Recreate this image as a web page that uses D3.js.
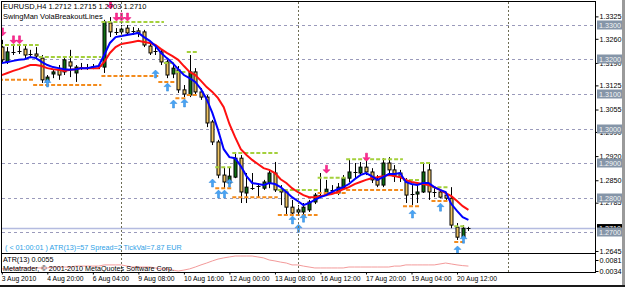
<!DOCTYPE html>
<html>
<head>
<meta charset="utf-8">
<script src="https://cdn.jsdelivr.net/npm/d3@7"></script>
<style>
  html, body { margin: 0; padding: 0; background: #fff; }
  svg { display: block; font-family: "Liberation Sans", Arial, sans-serif; }
</style>
</head>
<body>
<div id="chart"></div>
<script>
// EURUSD H4, 3 Aug 2010 12:00 .. 20 Aug 2010 20:00 (bar index 0..82)
const barOpen = [1.3236,1.3193,1.3222,1.3222,1.3230,1.3213,1.3216,1.3204,1.3135,1.3158,
  1.3170,1.3164,1.3193,1.3161,1.3178,1.3175,1.3178,1.3181,1.3178,1.3306,
  1.3280,1.3280,1.3291,1.3280,1.3283,1.3280,1.3239,1.3222,1.3222,1.3193,
  1.3158,1.3170,1.3112,1.3097,1.3164,1.3106,1.3091,1.3019,1.2961,1.2865,
  1.2842,1.2859,1.2914,1.2813,1.2828,1.2830,1.2827,1.2842,1.2871,1.2822,
  1.2816,1.2772,1.2758,1.2758,1.2764,1.2787,1.2804,1.2810,1.2822,1.2813,
  1.2827,1.2856,1.2874,1.2871,1.2888,1.2874,1.2851,1.2836,1.2900,1.2880,
  1.2871,1.2845,1.2807,1.2810,1.2816,1.2880,1.2816,1.2816,1.2807,1.2798,
  1.2714,1.2685,1.2712];
const barHigh = [1.3257,1.3236,1.3239,1.3239,1.3239,1.3228,1.3236,1.3213,1.3155,1.3170,
  1.3184,1.3204,1.3228,1.3184,1.3190,1.3187,1.3187,1.3190,1.3315,1.3323,
  1.3291,1.3300,1.3300,1.3294,1.3291,1.3286,1.3248,1.3236,1.3228,1.3199,
  1.3190,1.3181,1.3126,1.3213,1.3175,1.3117,1.3097,1.3025,1.2967,1.2888,
  1.2888,1.2929,1.2923,1.2871,1.2871,1.2842,1.2851,1.2880,1.2903,1.2836,
  1.2822,1.2793,1.2778,1.2784,1.2793,1.2813,1.2871,1.2851,1.2836,1.2842,
  1.2865,1.2909,1.2900,1.2903,1.2909,1.2885,1.2865,1.2914,1.2917,1.2894,
  1.2880,1.2856,1.2836,1.2836,1.2900,1.2900,1.2830,1.2822,1.2816,1.2830,
  1.2726,1.2720,1.2715];
const barLow = [1.3190,1.3187,1.3213,1.3216,1.3204,1.3204,1.3204,1.3132,1.3129,1.3146,
  1.3141,1.3155,1.3149,1.3135,1.3170,1.3170,1.3172,1.3172,1.3161,1.3265,
  1.3271,1.3271,1.3271,1.3271,1.3265,1.3236,1.3213,1.3213,1.3184,1.3146,
  1.3146,1.3103,1.3091,1.3091,1.3097,1.3083,1.3004,1.2952,1.2856,1.2827,
  1.2830,1.2856,1.2784,1.2784,1.2822,1.2801,1.2822,1.2827,1.2816,1.2778,
  1.2749,1.2749,1.2749,1.2752,1.2758,1.2781,1.2801,1.2804,1.2813,1.2807,
  1.2822,1.2845,1.2856,1.2862,1.2865,1.2842,1.2830,1.2830,1.2865,1.2845,
  1.2845,1.2784,1.2778,1.2784,1.2813,1.2793,1.2801,1.2798,1.2793,1.2711,
  1.2677,1.2671,1.2703];
const barClose = [1.3199,1.3222,1.3219,1.3225,1.3213,1.3216,1.3210,1.3141,1.3149,1.3164,
  1.3155,1.3199,1.3181,1.3178,1.3175,1.3178,1.3181,1.3178,1.3309,1.3280,
  1.3277,1.3288,1.3277,1.3283,1.3277,1.3242,1.3219,1.3225,1.3193,1.3155,
  1.3175,1.3112,1.3100,1.3164,1.3106,1.3091,1.3016,1.2961,1.2865,1.2845,
  1.2862,1.2914,1.2816,1.2830,1.2827,1.2833,1.2845,1.2871,1.2822,1.2816,
  1.2772,1.2755,1.2764,1.2772,1.2787,1.2807,1.2807,1.2824,1.2821,1.2830,
  1.2856,1.2874,1.2873,1.2888,1.2874,1.2851,1.2836,1.2900,1.2880,1.2862,
  1.2859,1.2807,1.2810,1.2816,1.2874,1.2816,1.2813,1.2801,1.2798,1.2720,
  1.2685,1.2711,1.2710];

// fast (blue) and slow (red) moving averages
const fastMA = [1.3190,1.3193,1.3196,1.3199,1.3201,1.3207,1.3204,1.3193,1.3184,1.3178,
  1.3175,1.3172,1.3170,1.3172,1.3175,1.3175,1.3178,1.3181,1.3213,1.3248,
  1.3265,1.3268,1.3271,1.3274,1.3277,1.3265,1.3254,1.3239,1.3219,1.3204,
  1.3190,1.3172,1.3155,1.3146,1.3135,1.3114,1.3085,1.3045,1.2996,1.2940,
  1.2917,1.2914,1.2891,1.2862,1.2842,1.2839,1.2836,1.2842,1.2839,1.2830,
  1.2816,1.2801,1.2790,1.2778,1.2784,1.2793,1.2801,1.2807,1.2816,1.2824,
  1.2830,1.2839,1.2853,1.2865,1.2871,1.2862,1.2851,1.2859,1.2868,1.2868,
  1.2871,1.2845,1.2839,1.2836,1.2842,1.2842,1.2830,1.2822,1.2816,1.2781,
  1.2761,1.2743,1.2735];
const slowMA = [1.3155,1.3161,1.3167,1.3172,1.3178,1.3184,1.3184,1.3181,1.3175,1.3172,
  1.3170,1.3167,1.3170,1.3172,1.3175,1.3175,1.3175,1.3175,1.3193,1.3219,
  1.3236,1.3245,1.3248,1.3251,1.3254,1.3251,1.3248,1.3242,1.3230,1.3219,
  1.3210,1.3199,1.3181,1.3164,1.3155,1.3138,1.3120,1.3106,1.3088,1.3062,
  1.3013,1.2975,1.2940,1.2923,1.2909,1.2897,1.2885,1.2880,1.2871,1.2853,
  1.2842,1.2827,1.2816,1.2807,1.2801,1.2801,1.2804,1.2807,1.2810,1.2816,
  1.2824,1.2830,1.2839,1.2845,1.2851,1.2856,1.2859,1.2862,1.2865,1.2862,
  1.2859,1.2851,1.2845,1.2842,1.2839,1.2836,1.2830,1.2822,1.2813,1.2804,
  1.2790,1.2775,1.2764];

const atrValues = [0.0043,0.0043,0.0043,0.0047,0.0047,0.0047,0.0047,0.0047,0.0047,0.0051,
  0.0051,0.0051,0.0051,0.0055,0.0055,0.0055,0.0055,0.0055,0.0060,0.0060,
  0.0060,0.0060,0.0055,0.0051,0.0051,0.0051,0.0051,0.0047,0.0043,0.0043,
  0.0038,0.0034,0.0038,0.0043,0.0051,0.0060,0.0068,0.0077,0.0085,0.0090,
  0.0094,0.0098,0.0098,0.0098,0.0098,0.0094,0.0090,0.0081,0.0077,0.0072,
  0.0068,0.0060,0.0060,0.0055,0.0051,0.0047,0.0047,0.0047,0.0047,0.0047,
  0.0047,0.0051,0.0051,0.0051,0.0051,0.0051,0.0051,0.0051,0.0051,0.0055,
  0.0055,0.0060,0.0060,0.0060,0.0060,0.0060,0.0060,0.0064,0.0068,0.0064,
  0.0060,0.0057,0.0055];

// VolaBreakoutLines: [first bar, last bar, price]
const resistanceLines = [[0,6,1.3242],[7,17,1.3207],[18,28,1.3309],[29,30,1.3190],[31,32,1.3164],
  [33,34,1.3222],[38,40,1.2888],[41,48,1.2929],[49,55,1.2822],[56,60,1.2857],[61,70,1.2911],
  [71,73,1.2851],[74,75,1.2900],[76,78,1.2830],[80,81,1.2717]];
const supportLines = [[0,5,1.3141],[6,17,1.3126],[18,27,1.3152],[28,30,1.3135],[31,32,1.3088],
  [33,34,1.3097],[38,40,1.2827],[41,48,1.2801],[49,55,1.2749],[56,60,1.2813],[61,70,1.2822],
  [71,73,1.2775],[76,78,1.2790],[80,81,1.2671]];

// signal arrows: [bar, price]
const upArrows = [[8,1.3132],[27,1.3158],[29,1.3120],[30,1.3071],[32,1.3074],[37,1.2842],
  [38,1.2810],[39,1.2810],[40,1.2842],[51,1.2735],[52,1.2711],[53,1.2740],[72,1.2752],
  [77,1.2772],[80,1.2648],[81,1.2679]];
const downArrows = [[0,1.3280],[2,1.3257],[3,1.3257],[19,1.3358],[20,1.3323],[21,1.3323],
  [22,1.3323],[57,1.2882],[64,1.2917]];

const timeLabelBars = [0, 8, 16, 24, 32, 40, 48, 56, 64, 72, 80];
const timeLabels = ["3 Aug 2010", "4 Aug 20:00", "6 Aug 04:00", "9 Aug 08:00", "10 Aug 16:00",
  "12 Aug 00:00", "13 Aug 08:00", "16 Aug 12:00", "17 Aug 20:00", "19 Aug 04:00", "20 Aug 12:00"];
const gridBars = [21, 52, 89];
const priceTicks = [1.3325, 1.3260, 1.3190, 1.3125, 1.3055, 1.2990, 1.2920, 1.2850, 1.2785, 1.2645];
const roundLevels = [1.3300, 1.3200, 1.3100, 1.3000, 1.2900, 1.2800, 1.2700];
const atrTicks = [0.0081, 0.0034];
const lastPrice = 1.2710;

(function () {
  const width = 625;
  const height = 287;
  const left = 2, right = 595;
  const mainTop = 2, mainBottom = 253;
  const atrTop = 254, atrBottom = 272;
  const fontFamily = "Liberation Sans, Arial, sans-serif";

  const bullColor = "#0f6e12";
  const bearColor = "#efc463";

  const x = d3.scaleLinear().domain([0, 104]).range([1.8, 593.6]);
  const y = d3.scaleLinear().domain([1.2700, 1.3300]).range([232, 25]);
  const yAtr = d3.scaleLinear().domain([0.0034, 0.0081]).range([271, 260]);

  const bars = d3.range(barOpen.length);

  const svg = d3.create("svg")
    .attr("width", width)
    .attr("height", height)
    .attr("viewBox", [0, 0, width, height]);

  svg.append("rect").attr("width", width).attr("height", height).attr("fill", "#fff");

  const defs = svg.append("defs");
  defs.append("clipPath").attr("id", "clip-main")
    .append("rect").attr("x", left).attr("y", mainTop).attr("width", right - left).attr("height", mainBottom - mainTop);
  defs.append("clipPath").attr("id", "clip-atr")
    .append("rect").attr("x", left).attr("y", atrTop).attr("width", right - left).attr("height", atrBottom - atrTop);

  const main = svg.append("g").attr("clip-path", "url(#clip-main)");

  // grid
  main.selectAll("line.hgrid")
    .data(roundLevels)
    .join("line")
      .attr("x1", left).attr("x2", right)
      .attr("y1", d => Math.round(y(d)) + 0.5).attr("y2", d => Math.round(y(d)) + 0.5)
      .attr("stroke", "#9a9abb")
      .attr("stroke-dasharray", "3,3");

  svg.selectAll("line.vgrid")
    .data(gridBars)
    .join("line")
      .attr("x1", d => Math.round(x(d)) + 0.5).attr("x2", d => Math.round(x(d)) + 0.5)
      .attr("y1", mainTop).attr("y2", atrBottom)
      .attr("stroke", "#6d6d55")
      .attr("stroke-dasharray", "2,2");

  // bid line
  main.append("line")
    .attr("x1", left).attr("x2", right)
    .attr("y1", y(lastPrice)).attr("y2", y(lastPrice))
    .attr("stroke", "#b4bbe0")
    .attr("stroke-width", 1.5);

  // candles
  const candles = main.selectAll("g.candle")
    .data(bars)
    .join("g");

  candles.append("line")
    .attr("x1", i => Math.round(x(i)) + 0.5).attr("x2", i => Math.round(x(i)) + 0.5)
    .attr("y1", i => y(barHigh[i])).attr("y2", i => y(barLow[i]))
    .attr("stroke", "#000");

  candles.each(function (i) {
    const g = d3.select(this);
    const cx = Math.round(x(i)) + 0.5;
    const top = y(Math.max(barOpen[i], barClose[i]));
    const bottom = y(Math.min(barOpen[i], barClose[i]));
    if (bottom - top < 1.5) {
      g.append("line")
        .attr("x1", cx - 2).attr("x2", cx + 2)
        .attr("y1", Math.round(top) + 0.5).attr("y2", Math.round(top) + 0.5)
        .attr("stroke", "#000");
    } else {
      g.append("rect")
        .attr("x", cx - 1.5).attr("width", 3)
        .attr("y", top).attr("height", bottom - top)
        .attr("fill", barClose[i] > barOpen[i] ? bullColor : bearColor)
        .attr("stroke", "#000")
        .attr("stroke-width", 1);
    }
  });

  // breakout lines
  function drawLevels(data, color) {
    main.selectAll(null)
      .data(data)
      .join("line")
        .attr("x1", d => x(d[0]) - 2.8).attr("x2", d => x(d[1]) + 2.8)
        .attr("y1", d => y(d[2])).attr("y2", d => y(d[2]))
        .attr("stroke", color)
        .attr("stroke-width", 2)
        .attr("stroke-dasharray", "4,2");
  }
  drawLevels(resistanceLines, "#a4d03c");
  drawLevels(supportLines, "#f38b1c");

  // moving averages
  const line = d3.line().x(i => x(i));
  main.append("path")
    .attr("d", line.y(i => y(slowMA[i]))(bars))
    .attr("fill", "none").attr("stroke", "#ff1010").attr("stroke-width", 2);
  main.append("path")
    .attr("d", line.y(i => y(fastMA[i]))(bars))
    .attr("fill", "none").attr("stroke", "#0000ff").attr("stroke-width", 2);

  // arrows
  main.selectAll("path.up")
    .data(upArrows)
    .join("path")
      .attr("transform", d => `translate(${Math.round(x(d[0])) + 0.5},${y(d[1])})`)
      .attr("d", "M0,-4L3.5,-0.5L1,-0.5L1,4L-1,4L-1,-0.5L-3.5,-0.5Z")
      .attr("fill", "#47a3f5")
      .attr("stroke", "#2f86d8")
      .attr("stroke-width", 0.5);
  main.selectAll("path.down")
    .data(downArrows)
    .join("path")
      .attr("transform", d => `translate(${Math.round(x(d[0])) + 0.5},${y(d[1])})`)
      .attr("d", "M0,4L3.5,0.5L1,0.5L1,-4L-1,-4L-1,0.5L-3.5,0.5Z")
      .attr("fill", "#ff2a8c")
      .attr("stroke", "#e0107a")
      .attr("stroke-width", 0.5);

  // ATR panel
  const atr = svg.append("g").attr("clip-path", "url(#clip-atr)");
  atr.append("path")
    .attr("d", d3.line().x(i => x(i)).y(i => yAtr(atrValues[i]))(bars))
    .attr("fill", "none").attr("stroke", "#f39a9a").attr("stroke-width", 1);

  // texts
  svg.append("text").attr("x", 3).attr("y", 9).attr("font-size", 7.5)
    .text("EURUSD,H4  1.2712 1.2715 1.2703 1.2710");
  svg.append("text").attr("x", 3).attr("y", 19).attr("font-size", 7.5)
    .text("SwingMan VolaBreakoutLines");
  svg.append("text").attr("x", 5).attr("y", 250).attr("font-size", 7.2).attr("fill", "#2ea0e6")
    .text("( < 01:00:01 )  ATR(13)=57   Spread=2   TickVal=7.87 EUR");
  svg.append("text").attr("x", 3).attr("y", 262).attr("font-size", 7.2)
    .text("ATR(13) 0.0055");
  svg.append("text").attr("x", 3).attr("y", 271).attr("font-size", 7.2)
    .text("Metatrader, \u00a9 2001-2010 MetaQuotes Software Corp.");

  // frames
  svg.append("rect")
    .attr("x", left - 0.5).attr("y", 1.5)
    .attr("width", right - left + 1).attr("height", atrBottom - 1)
    .attr("fill", "none").attr("stroke", "#000");
  svg.append("line")
    .attr("x1", left).attr("x2", right)
    .attr("y1", mainBottom + 0.5).attr("y2", mainBottom + 0.5)
    .attr("stroke", "#000");

  // price axis
  const priceAxis = svg.append("g")
    .attr("transform", `translate(${right + 0.5},0)`)
    .call(d3.axisRight(y).tickValues(priceTicks).tickSize(3).tickPadding(1).tickFormat(d3.format(".4f")));
  priceAxis.select(".domain").remove();
  priceAxis.selectAll("text").attr("font-size", 7.2).attr("font-family", fontFamily);

  const atrAxis = svg.append("g")
    .attr("transform", `translate(${right + 0.5},0)`)
    .call(d3.axisRight(yAtr).tickValues(atrTicks).tickSize(3).tickPadding(1).tickFormat(d3.format(".4f")));
  atrAxis.select(".domain").remove();
  atrAxis.selectAll("text").attr("font-size", 7.2).attr("font-family", fontFamily);

  // current price label
  svg.append("rect")
    .attr("x", right + 2).attr("y", y(lastPrice) - 4.5)
    .attr("width", 25).attr("height", 9).attr("fill", "#000");
  svg.append("text")
    .attr("x", right + 4).attr("y", y(lastPrice) + 2.6)
    .attr("font-size", 7.2).attr("fill", "#fff")
    .text(d3.format(".4f")(lastPrice));

  // round level labels
  const levelTags = svg.selectAll("g.level")
    .data(roundLevels)
    .join("g")
      .attr("transform", d => `translate(${right + 2},${Math.round(y(d))})`);
  levelTags.append("rect")
    .attr("x", 0).attr("y", -4.5).attr("width", 25).attr("height", 9)
    .attr("fill", "#8595a8");
  levelTags.append("text")
    .attr("x", 2).attr("y", 2.6)
    .attr("font-size", 7.2).attr("fill", "#f4f4f4")
    .text(d => d3.format(".4f")(d));

  // time axis
  const timeAxis = svg.append("g")
    .attr("transform", `translate(0,${atrBottom + 0.5})`)
    .call(d3.axisBottom(x).tickValues(timeLabelBars).tickSize(2).tickPadding(2)
      .tickFormat((d, k) => timeLabels[k]));
  timeAxis.select(".domain").remove();
  timeAxis.selectAll("text")
    .attr("text-anchor", "start")
    .attr("x", -0.5)
    .attr("font-size", 6.8)
    .attr("font-family", fontFamily);

  // window edges
  svg.append("rect").attr("x", 0).attr("y", 285).attr("width", width).attr("height", 2).attr("fill", "#1a1a1a");
  svg.append("rect").attr("x", 622).attr("y", 0).attr("width", 3).attr("height", 285).attr("fill", "#9a9a9a");

  d3.select("#chart").node().appendChild(svg.node());
})();
</script>
</body>
</html>
